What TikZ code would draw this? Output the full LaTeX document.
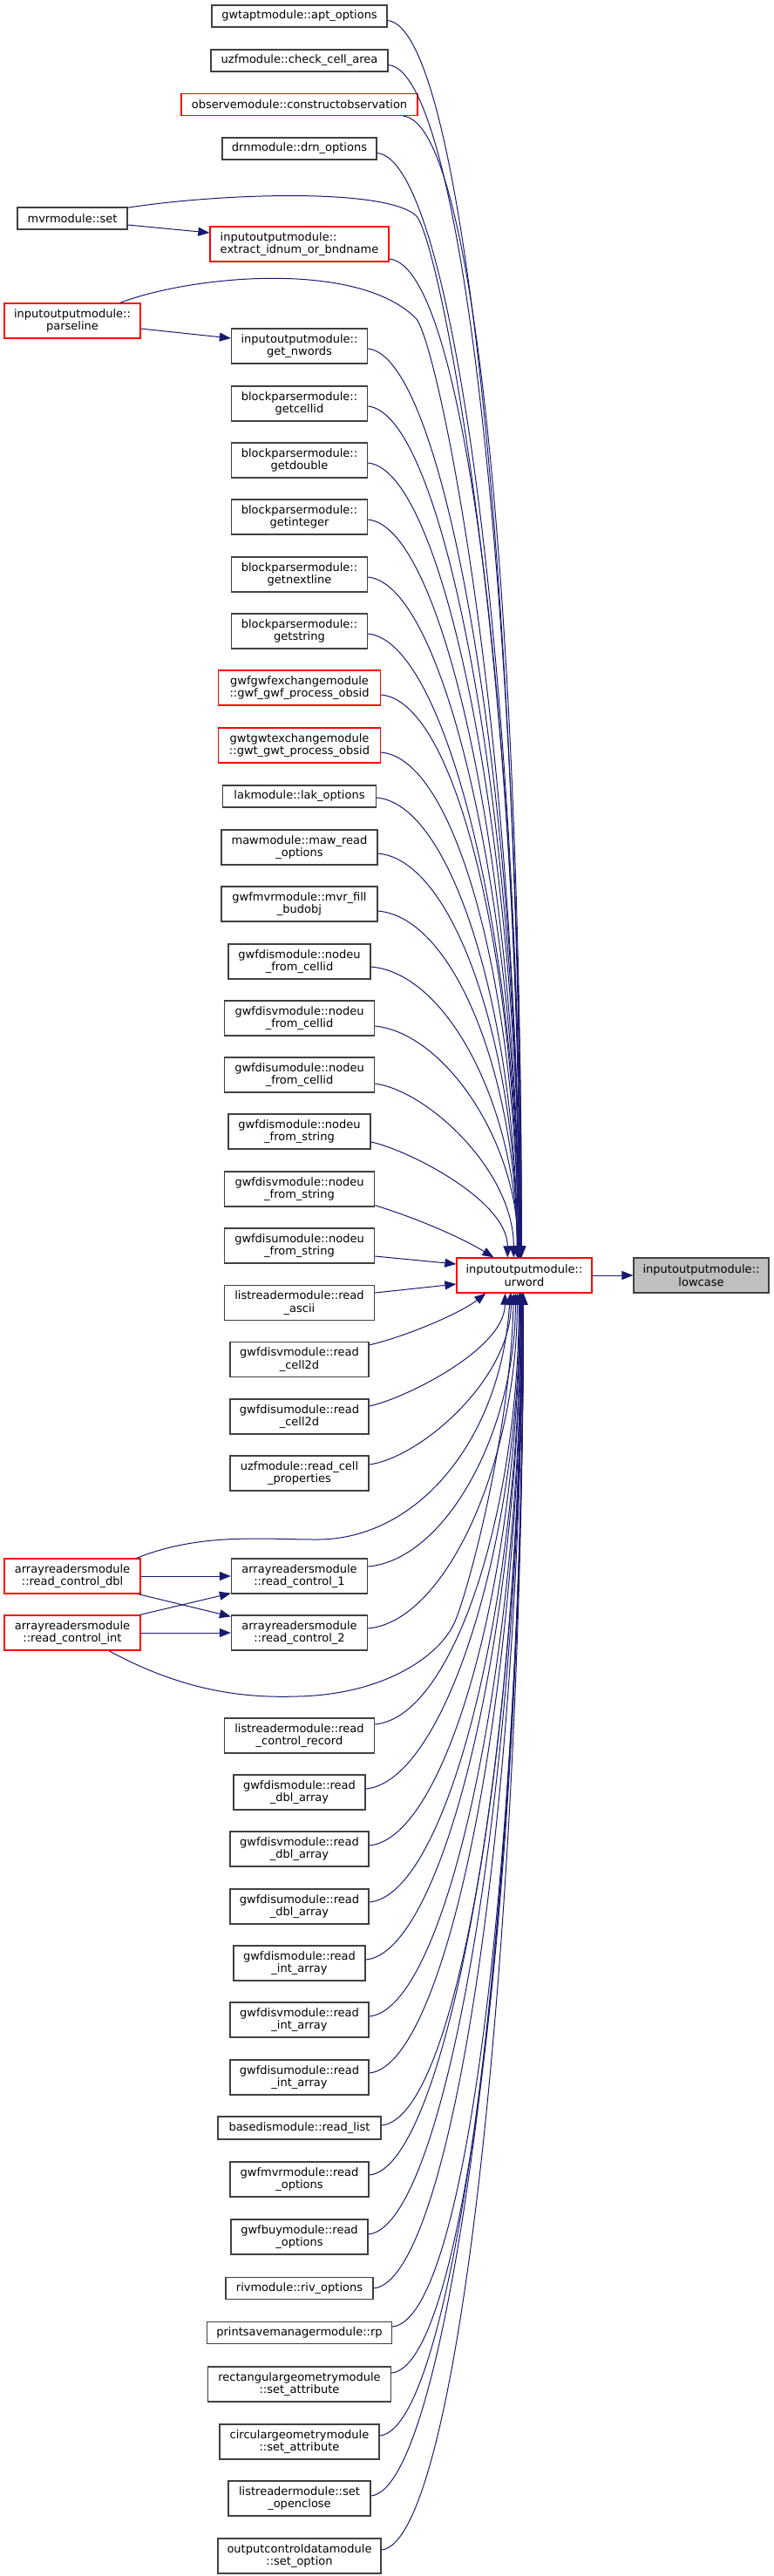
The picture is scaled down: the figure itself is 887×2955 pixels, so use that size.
\documentclass[tikz,border=0pt]{standalone}
\usepackage{fontspec}
\setmainfont{DejaVu Sans}
\usetikzlibrary{arrows.meta,calc}
\definecolor{edgecol}{HTML}{191970}
\definecolor{boxgray}{HTML}{404040}
\definecolor{boxred}{HTML}{FF0000}
\definecolor{lcfill}{HTML}{BFBFBF}
\tikzset{
  box/.style={draw=boxgray, line width=1.3pt, fill=white, inner sep=0pt, align=center,
    font=\fontsize{13}{14.5}\selectfont, text=black},
  one/.style={box, minimum height=25pt},
  two/.style={box, minimum height=40pt},
  redbox/.style={draw=boxred},
  conn/.style={draw=edgecol, line width=1pt, -{Triangle[length=13pt,width=10pt]}},
}
\newcommand{\uped}[2]{\draw[conn] let \p1=(#1), \p2=([xshift=#2pt]uw.north west),
  \n1={abs(\y1-\y2)}, \n2={max(15,min(90,0.3*\n1))} in
  (\p1) .. controls ({\x1+\n2},{\y1-8}) and (\x2,{\y2+0.5*\n1}) .. (\p2);}
\newcommand{\loed}[2]{\draw[conn] let \p1=(#1), \p2=([xshift=#2pt]uw.south west),
  \n1={abs(\y1-\y2)}, \n2={max(15,min(90,0.3*\n1))} in
  (\p1) .. controls ({\x1+\n2},{\y1+8}) and (\x2,{\y2-0.5*\n1}) .. (\p2);}
\begin{document}
\begin{tikzpicture}[x=1pt,y=-1pt]
\useasboundingbox (0,0) rectangle (887,2955);
% left column
\node[one, minimum width=126pt] (mvrset) at (83,250.5) {mvrmodule::set};
\node[two, redbox, minimum width=156pt] (parse) at (83,368) {inputoutputmodule::\\parseline};
\node[two, redbox, minimum width=156pt] (dbl) at (83,1808) {arrayreadersmodule\\::read\_control\_dbl};
\node[two, redbox, minimum width=156pt] (int) at (83,1873) {arrayreadersmodule\\::read\_control\_int};
% middle column
\node[one, minimum width=201pt] (n1) at (343.5,18.5) {gwtaptmodule::apt\_options};
\node[one, minimum width=203pt] (n2) at (343.5,69.5) {uzfmodule::check\_cell\_area};
\node[one, redbox, minimum width=271pt] (n3) at (343.5,120) {observemodule::constructobservation};
\node[one, minimum width=177pt] (n4) at (343.5,170.5) {drnmodule::drn\_options};
\node[two, redbox, minimum width=205pt, align=left] (ext) at (343.5,280) {inputoutputmodule::\\extract\_idnum\_or\_bndname};
\node[two, minimum width=156pt] (nwords) at (343.5,397) {inputoutputmodule::\\get\_nwords};
\node[two, minimum width=156pt] (n7) at (343.5,463) {blockparsermodule::\\getcellid};
\node[two, minimum width=156pt] (n8) at (343.5,528) {blockparsermodule::\\getdouble};
\node[two, minimum width=156pt] (n9) at (343.5,593) {blockparsermodule::\\getinteger};
\node[two, minimum width=156pt] (n10) at (343.5,659) {blockparsermodule::\\getnextline};
\node[two, minimum width=156pt] (n11) at (343.5,724) {blockparsermodule::\\getstring};
\node[two, redbox, minimum width=186pt] (n12) at (343.5,789) {gwfgwfexchangemodule\\::gwf\_gwf\_process\_obsid};
\node[two, redbox, minimum width=186pt] (n13) at (343.5,855) {gwtgwtexchangemodule\\::gwt\_gwt\_process\_obsid};
\node[one, minimum width=176pt] (n14) at (343.5,913.5) {lakmodule::lak\_options};
\node[two, minimum width=179pt] (n15) at (343.5,972) {mawmodule::maw\_read\\\_options};
\node[two, minimum width=179pt] (n16) at (343.5,1037) {gwfmvrmodule::mvr\_fill\\\_budobj};
\node[two, minimum width=163pt] (n17) at (343.5,1103) {gwfdismodule::nodeu\\\_from\_cellid};
\node[two, minimum width=172pt] (n18) at (343.5,1168) {gwfdisvmodule::nodeu\\\_from\_cellid};
\node[two, minimum width=172pt] (n19) at (343.5,1233) {gwfdisumodule::nodeu\\\_from\_cellid};
\node[two, minimum width=163pt] (n20) at (343.5,1298) {gwfdismodule::nodeu\\\_from\_string};
\node[two, minimum width=172pt] (n21) at (343.5,1364) {gwfdisvmodule::nodeu\\\_from\_string};
\node[two, minimum width=172pt] (n22) at (343.5,1429) {gwfdisumodule::nodeu\\\_from\_string};
\node[two, minimum width=172pt] (n23) at (343.5,1494.5) {listreadermodule::read\\\_ascii};
\node[two, minimum width=159pt] (n24) at (343.5,1559.5) {gwfdisvmodule::read\\\_cell2d};
\node[two, minimum width=159pt] (n25) at (343.5,1625) {gwfdisumodule::read\\\_cell2d};
\node[two, minimum width=159pt] (n26) at (343.5,1690) {uzfmodule::read\_cell\\\_properties};
\node[two, minimum width=156pt] (rc1) at (343.5,1808) {arrayreadersmodule\\::read\_control\_1};
\node[two, minimum width=156pt] (rc2) at (343.5,1873) {arrayreadersmodule\\::read\_control\_2};
\node[two, minimum width=172pt] (n29) at (343.5,1991) {listreadermodule::read\\\_control\_record};
\node[two, minimum width=151pt] (n30) at (343.5,2056) {gwfdismodule::read\\\_dbl\_array};
\node[two, minimum width=159pt] (n31) at (343.5,2121) {gwfdisvmodule::read\\\_dbl\_array};
\node[two, minimum width=159pt] (n32) at (343.5,2187) {gwfdisumodule::read\\\_dbl\_array};
\node[two, minimum width=151pt] (n33) at (343.5,2252) {gwfdismodule::read\\\_int\_array};
\node[two, minimum width=159pt] (n34) at (343.5,2317) {gwfdisvmodule::read\\\_int\_array};
\node[two, minimum width=159pt] (n35) at (343.5,2383) {gwfdisumodule::read\\\_int\_array};
\node[one, minimum width=187pt, minimum height=26pt] (n36) at (343.5,2441) {basedismodule::read\_list};
\node[two, minimum width=159pt] (n37) at (343.5,2500) {gwfmvrmodule::read\\\_options};
\node[two, minimum width=157pt] (n38) at (343.5,2566) {gwfbuymodule::read\\\_options};
\node[one, minimum width=169pt] (n39) at (343.5,2625) {rivmodule::riv\_options};
\node[one, minimum width=212pt] (n40) at (343.5,2676) {printsavemanagermodule::rp};
\node[two, minimum width=210pt] (n41) at (343.5,2735) {rectangulargeometrymodule\\::set\_attribute};
\node[two, minimum width=183pt] (n42) at (343.5,2801) {circulargeometrymodule\\::set\_attribute};
\node[two, minimum width=163pt] (n43) at (343.5,2866) {listreadermodule::set\\\_openclose};
\node[two, minimum width=187pt] (n44) at (343.5,2932) {outputcontroldatamodule\\::set\_option};
% right
\node[two, redbox, minimum width=155pt] (uw) at (601.5,1463) {inputoutputmodule::\\urword};
\node[two, fill=lcfill, minimum width=155pt] (lc) at (804.5,1463) {inputoutputmodule::\\lowcase};
% straight connectors
\draw[conn] ([yshift=-7.5pt]mvrset.east) -- ([yshift=13pt]ext.west);
\draw[conn] ([yshift=-9pt]parse.east) -- ([yshift=9pt]nwords.west);
\draw[conn] (dbl.east) -- (rc1.west);
\draw[conn] ([xshift=-3pt]dbl.south east) -- ([yshift=-2pt]rc2.north west);
\draw[conn] ([xshift=-1pt]int.north east) -- ([yshift=1pt]rc1.south west);
\draw[conn] (int.east) -- (rc2.west);
\draw[conn] (uw.east) -- (lc.west);
\draw[conn] ([yshift=-12pt]n22.east) -- ([yshift=13pt]uw.west);
\draw[conn] ([yshift=11.5pt]n23.east) -- ([yshift=-10pt]uw.west);
% long curved connectors from left column
\draw[conn] ([xshift=-1pt,yshift=-1pt]mvrset.north east) .. controls (250,222) and (440,215) .. (477,247)
  .. controls (503,269) and (598,750) .. ([xshift=74pt]uw.north west);
\draw[conn] ([xshift=-24pt]parse.north east) .. controls (220,316) and (410,298) .. (477,365)
  .. controls (502,390) and (596,850) .. ([xshift=72pt]uw.north west);
\draw[conn] ([xshift=-5pt]dbl.north east) .. controls (230,1758) and (300,1766) .. (364,1766)
  .. controls (480,1766) and (575,1650) .. ([xshift=62pt]uw.south west);
\draw[conn] ([xshift=42pt]int.south) .. controls (210,1940) and (280,1948) .. (341,1946)
  .. controls (440,1944) and (505,1900) .. (522,1860)
  .. controls (536,1828) and (585,1650) .. ([xshift=66pt]uw.south west);
% near connectors
\draw[conn] ([yshift=2pt]n21.south east) .. controls (480,1398) and (530,1420) .. ([xshift=43pt]uw.north west);
\draw[conn] ([yshift=-4pt]n24.north east) .. controls (470,1532) and (530,1505) .. ([xshift=34pt]uw.south west);
% upper connectors
\uped{[yshift=-5pt]n1.east}{74}
\uped{[yshift=-5pt]n2.east}{75}
\uped{[xshift=-17pt]n3.south east}{75}
\uped{[yshift=-5pt]n4.east}{74}
\uped{[yshift=-17pt]ext.east}{73}
\uped{[yshift=-3pt]nwords.east}{73}
\uped{[yshift=-3pt]n7.east}{73}
\uped{[yshift=-3pt]n8.east}{73}
\uped{[yshift=-3pt]n9.east}{72}
\uped{[yshift=-3pt]n10.east}{72}
\uped{[yshift=-3pt]n11.east}{72}
\uped{[yshift=-8pt]n12.east}{71}
\uped{[yshift=-8pt]n13.east}{71}
\uped{[yshift=-1.5pt]n14.east}{70}
\uped{[yshift=-7pt]n15.east}{70}
\uped{[yshift=-8pt]n16.east}{70}
\uped{[yshift=-6pt]n17.east}{70}
\uped{[yshift=-9pt]n18.east}{71}
\uped{[yshift=-10pt]n19.east}{66}
\uped{[yshift=-12pt]n20.east}{59}
% lower connectors
\loed{[yshift=12pt]n25.east}{56}
\loed{[yshift=10pt]n26.east}{63}
\loed{[yshift=11pt]rc1.east}{68}
\loed{[yshift=5pt]rc2.east}{70}
\loed{[yshift=13pt]n29.east}{72}
\loed{[yshift=4pt]n30.east}{73}
\loed{[yshift=4pt]n31.east}{73}
\loed{[yshift=5pt]n32.east}{74}
\loed{[yshift=4pt]n33.east}{74}
\loed{[yshift=4pt]n34.east}{75}
\loed{[yshift=5pt]n35.east}{75}
\loed{[yshift=3pt]n36.east}{75}
\loed{[yshift=5pt]n37.east}{76}
\loed{[yshift=3pt]n38.east}{76}
\loed{[yshift=0pt]n39.east}{76}
\loed{[yshift=7pt]n40.east}{77}
\loed{[yshift=13pt]n41.east}{77}
\loed{[yshift=7pt]n42.east}{77}
\loed{[yshift=3pt]n43.east}{77}
\loed{[yshift=7pt]n44.east}{77}
\end{tikzpicture}
\end{document}
